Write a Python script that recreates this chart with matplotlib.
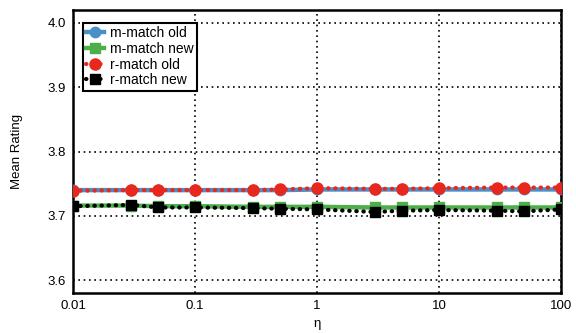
import matplotlib.pyplot as plt
import numpy as np

plt.rcParams['font.family'] = ['Liberation Sans', 'DejaVu Sans']

# eta values and mean ratings
eta = [0.01, 0.03, 0.05, 0.1, 0.3, 0.5, 1, 3, 5, 10, 30, 50, 100]
m_old = [3.740, 3.740, 3.740, 3.740, 3.740, 3.740, 3.741, 3.741, 3.741, 3.741, 3.741, 3.741, 3.741]
m_new = [3.716, 3.716, 3.715, 3.715, 3.714, 3.714, 3.714, 3.713, 3.713, 3.713, 3.713, 3.713, 3.713]
r_old = [3.739, 3.740, 3.740, 3.740, 3.740, 3.741, 3.743, 3.742, 3.742, 3.743, 3.744, 3.744, 3.744]
r_new = [3.715, 3.717, 3.713, 3.713, 3.712, 3.711, 3.710, 3.706, 3.708, 3.709, 3.708, 3.707, 3.710]
yticks = [3.6, 3.7, 3.8, 3.9, 4.0]
xticks = [0.01, 0.1, 1, 10, 100]
xticklabels = ['0.01', '0.1', '1', '10', '100']

fig = plt.figure(figsize=(5.76, 3.33), dpi=100)
ax = fig.add_axes([0.127, 0.12, 0.847, 0.85])

dots = (0, (0.1, 1.6))
ax.plot(eta, m_old, color='#4a90c8', lw=3.2, marker='o', ms=7.5, label='m-match old', zorder=3)
ax.plot(eta, m_new, color='#4daf4a', lw=3.2, marker='s', ms=7.5, label='m-match new', zorder=3)
ax.plot(eta, r_old, color='#e8281f', lw=3, ls=dots, dash_capstyle='round',
        marker='o', ms=8, label='r-match old', zorder=4)
ax.plot(eta, r_new, color='black', lw=3, ls=dots, dash_capstyle='round',
        marker='s', ms=7.5, label='r-match new', zorder=4)

ax.set_xscale('log')
ax.set_xlim(0.01, 100)
ax.set_ylim(3.58, 4.02)
ax.set_xticks(xticks)
ax.set_xticklabels(xticklabels)
ax.minorticks_off()
ax.set_yticks(yticks)
ax.set_yticklabels(['%.1f' % v for v in yticks])
ax.tick_params(length=0, labelsize=9.5, pad=5)
ax.grid(True, color='black', ls=(0, (1, 2.2)), lw=1.2)

for s in ax.spines.values():
    s.set_linewidth(1.8)

ax.set_xlabel('η', fontsize=9.5, labelpad=4)
ax.set_ylabel('Mean Rating', fontsize=9.5, labelpad=18)

leg = ax.legend(loc='upper left', fontsize=10, fancybox=False, framealpha=1,
                edgecolor='black', handlelength=1.3, borderpad=0.25,
                labelspacing=0.12, handletextpad=0.4, borderaxespad=0,
                bbox_to_anchor=(0.02, 0.955))
leg.get_frame().set_linewidth(1.5)

plt.savefig('out.png', dpi=100)
